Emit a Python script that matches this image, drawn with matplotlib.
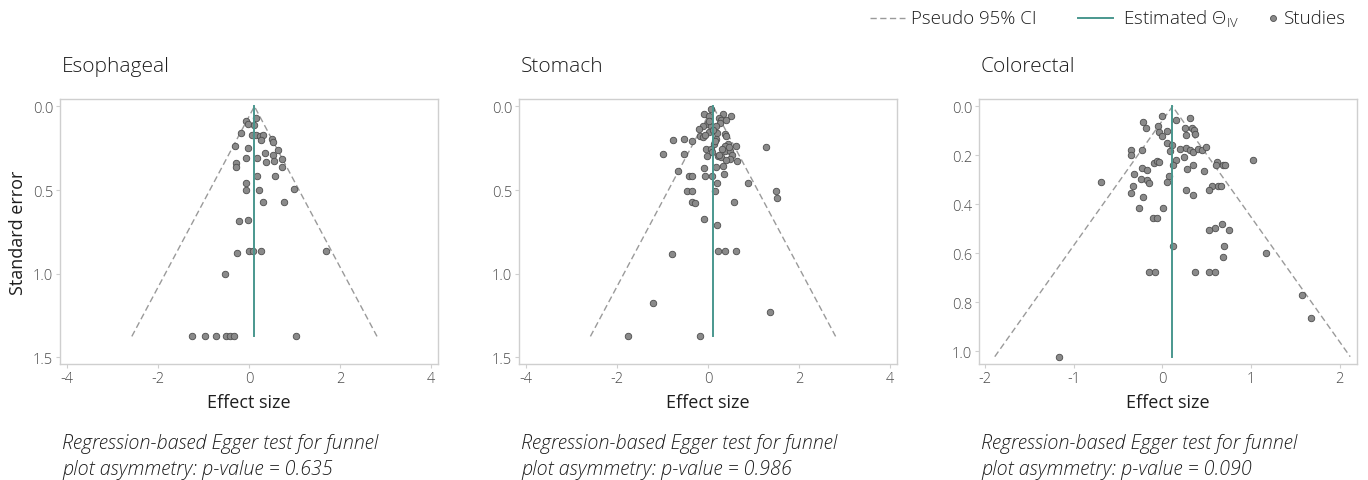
import matplotlib
matplotlib.use("Agg")
import matplotlib.pyplot as plt
from matplotlib.lines import Line2D
import numpy as np

plt.rcParams['font.family'] = ['Open Sans', 'DejaVu Sans']
plt.rcParams['font.weight'] = 'light'
plt.rcParams['axes.unicode_minus'] = False
plt.rcParams['mathtext.fontset'] = 'custom'
plt.rcParams['mathtext.rm'] = 'Open Sans:light'

# ---------------- data ----------------
titles = ["Esophageal", "Stomach", "Colorectal"]
p_values = ["0.635", "0.986", "0.090"]
theta = [0.114, 0.105, 0.113]
se_max = [1.375, 1.375, 1.023]

eso_x = [-0.08, 0.15, -0.03, 0.11, -0.18, 0.05, 0.15, 0.23, 0.30, 0.26, 0.49, 0.52,
         -0.31, -0.03, 0.63, 0.34, 0.53, -0.07, 0.18, 0.73, 0.37, 0.55, -0.30, -0.30,
         0.71, 0.16, 0.57, -0.07, -0.08, 0.21, 0.99, 0.30, 0.77, -0.22, -0.03, -0.26,
         0.00, 0.08, 0.25, 1.68, -0.53, -1.26, -0.98, -0.73, -0.50, -0.43, -0.34, 1.02]
eso_se = [0.086, 0.070, 0.106, 0.110, 0.161, 0.169, 0.169, 0.180, 0.173, 0.203, 0.195, 0.213,
          0.239, 0.247, 0.259, 0.279, 0.293, 0.311, 0.311, 0.313, 0.331, 0.327, 0.341, 0.365,
          0.365, 0.418, 0.418, 0.456, 0.502, 0.502, 0.492, 0.572, 0.572, 0.683, 0.677, 0.875,
          0.867, 0.867, 0.867, 0.867, 1.002, 1.375, 1.375, 1.375, 1.375, 1.375, 1.375, 1.375]

sto_x = [0.07, -0.09, 0.01, 0.32, 0.51, 0.23, 0.29, 0.40, 0.25, -0.03, -0.12, 0.05,
         -0.21, 0.17, 0.01, 0.20, 0.36, -0.19, -0.11, 0.40, 0.17, -0.06, -0.78, -0.53,
         -0.35, 0.13, 0.44, 0.37, 0.60, 1.26, -0.04, 0.06, 0.08, 0.37, 0.48, 0.30,
         -0.99, -0.54, 0.53, -0.02, 0.22, 0.27, 0.47, 0.40, 0.64, 0.33, 0.18, -0.10,
         -0.67, 0.34, -0.43, -0.36, -0.06, 0.09, 0.19, 0.88, -0.47, -0.35, 0.15, 1.48,
         1.51, -0.36, -0.28, 0.57, -0.10, 0.19, -0.80, 0.22, 0.37, 0.62, -1.21, 1.36,
         -1.77, -0.18, 0.10, 0.24, 0.45, 0.14, 0.02]
sto_se = [0.016, 0.044, 0.060, 0.048, 0.056, 0.072, 0.084, 0.080, 0.100, 0.104, 0.116, 0.120,
          0.136, 0.116, 0.155, 0.161, 0.166, 0.177, 0.181, 0.177, 0.195, 0.172, 0.201, 0.194,
          0.206, 0.225, 0.225, 0.235, 0.239, 0.245, 0.255, 0.255, 0.273, 0.267, 0.267, 0.255,
          0.287, 0.287, 0.289, 0.299, 0.299, 0.301, 0.315, 0.321, 0.325, 0.355, 0.365, 0.371,
          0.388, 0.402, 0.418, 0.418, 0.418, 0.418, 0.458, 0.456, 0.504, 0.504, 0.506, 0.504,
          0.548, 0.574, 0.576, 0.572, 0.671, 0.709, 0.884, 0.867, 0.867, 0.867, 1.173, 1.227,
          1.375, 1.375, 0.140, 0.290, 0.240, 0.210, 0.090]

col_x = [0.00, 0.31, 0.15, -0.22, -0.19, -0.05, 0.25, 0.33, 0.36, 0.05, -0.04, 0.37,
         0.00, 0.26, 0.05, 0.11, -0.35, -0.23, 0.08, 0.20, 0.26, 0.31, 0.35, 0.40,
         0.45, 0.49, -0.36, 0.24, 0.15, 1.02, -0.10, -0.06, -0.04, 0.12, 0.34, 0.62,
         0.60, 0.68, 0.70, -0.23, 0.28, -0.18, 0.47, -0.32, 0.07, -0.69, -0.24, -0.17,
         -0.15, 0.05, -0.33, 0.56, 0.63, 0.66, 0.53, 0.27, -0.35, 0.34, -0.22, -0.26,
         0.01, -0.11, -0.06, 0.67, 0.59, 0.53, 0.75, 0.12, 0.69, 0.68, 1.17, -0.15,
         -0.08, 0.37, 0.53, 0.59, 1.57, 1.68, -1.17]
col_se = [0.040, 0.048, 0.057, 0.065, 0.089, 0.082, 0.087, 0.089, 0.098, 0.099, 0.105, 0.112,
          0.120, 0.117, 0.151, 0.157, 0.178, 0.178, 0.181, 0.176, 0.169, 0.178, 0.185, 0.174,
          0.178, 0.166, 0.199, 0.207, 0.221, 0.221, 0.230, 0.225, 0.226, 0.238, 0.238, 0.226,
          0.240, 0.240, 0.240, 0.252, 0.255, 0.259, 0.263, 0.278, 0.286, 0.308, 0.298, 0.300,
          0.315, 0.311, 0.327, 0.327, 0.327, 0.327, 0.341, 0.343, 0.354, 0.362, 0.369, 0.416,
          0.416, 0.455, 0.455, 0.481, 0.497, 0.505, 0.505, 0.572, 0.572, 0.617, 0.599, 0.677,
          0.677, 0.677, 0.677, 0.677, 0.771, 0.865, 1.024]

effects = [eso_x, sto_x, col_x]
ses = [eso_se, sto_se, col_se]

xlims = [(-4.16, 4.15), (-4.16, 4.15), (-2.07, 2.195)]
ylims = [(1.54, -0.044), (1.54, -0.044), (1.053, -0.030)]
xticks = [[-4, -2, 0, 2, 4], [-4, -2, 0, 2, 4], [-2, -1, 0, 1, 2]]
yticks = [[0.0, 0.5, 1.0, 1.5], [0.0, 0.5, 1.0, 1.5], [0.0, 0.2, 0.4, 0.6, 0.8, 1.0]]

# ---------------- style ----------------
W, H = 1368, 481
pt_color = "#8a8a8a"
edge_color = "#4d4d4d"
teal = "#4a978e"
ci_color = "#9a9a9a"
spine_color = "#cfcfcf"
text_color = "#1e1e1e"
tick_color = "#4a4a4a"

fig = plt.figure(figsize=(W / 100, H / 100), dpi=100)
fig.patch.set_facecolor("white")

lefts = [60, 519, 979]
ax_w, ax_top, ax_bot = 378, 100, 365

for i in range(3):
    ax = fig.add_axes([lefts[i] / W, (H - ax_bot) / H, ax_w / W, (ax_bot - ax_top) / H])
    t, s = theta[i], se_max[i]
    ax.plot([t - 1.96 * s, t, t + 1.96 * s], [s, 0, s], ls=(0, (4.5, 2.5)),
            color=ci_color, lw=1.0, zorder=1)
    ax.scatter(effects[i], ses[i], s=22, facecolor=pt_color, edgecolor=edge_color,
               linewidth=0.6, zorder=2)
    ax.plot([t, t], [0, s], color=teal, lw=1.4, zorder=3)
    ax.set_xlim(*xlims[i])
    ax.set_ylim(*ylims[i])
    ax.set_xticks(xticks[i])
    ax.set_xticklabels([f"{v:d}" for v in xticks[i]])
    ax.set_yticks(yticks[i])
    ax.set_yticklabels([f"{v:.1f}" for v in yticks[i]])
    for sp in ax.spines.values():
        sp.set_color(spine_color)
        sp.set_linewidth(1.0)
    ax.tick_params(axis="both", length=3, width=0.8, color=spine_color,
                   labelsize=10.5, labelcolor=tick_color, pad=2)
    ax.set_xlabel("Effect size", fontsize=13, color=text_color, labelpad=5)
    if i == 0:
        ax.set_ylabel("Standard error", fontsize=13, color=text_color, labelpad=4)
    fig.text((lefts[i] + 2) / W, 1 - 72 / H, titles[i], fontsize=15,
             color=text_color, ha="left", va="baseline")
    fig.text((lefts[i] + 2) / W, 1 - 449 / H,
             "Regression-based Egger test for funnel", fontsize=14.2,
             style="italic", color=text_color, ha="left", va="baseline")
    fig.text((lefts[i] + 2) / W, 1 - 475 / H,
             "plot asymmetry: p-value = " + p_values[i], fontsize=14.2,
             style="italic", color=text_color, ha="left", va="baseline")

# ---------------- legend ----------------
ly = 1 - 19 / H
fig.add_artist(Line2D([870 / W, 905 / W], [ly, ly], transform=fig.transFigure,
                      color=ci_color, lw=1.0, ls=(0, (4.5, 2.5))))
fig.text(911 / W, ly, "Pseudo 95% CI", fontsize=13.5, color=text_color,
         ha="left", va="center")
fig.add_artist(Line2D([1078 / W, 1113 / W], [ly, ly], transform=fig.transFigure,
                      color=teal, lw=1.4))
fig.text(1123 / W, ly, "Estimated Θ$_{\\mathregular{IV}}$", fontsize=13.5,
         color=text_color, ha="left", va="center")
fig.add_artist(Line2D([1273 / W], [ly], transform=fig.transFigure, marker="o",
                      ms=4.3, mfc=pt_color, mec=edge_color, mew=0.6, ls="none"))
fig.text(1284 / W, ly, "Studies", fontsize=13.5, color=text_color,
         ha="left", va="center")

fig.savefig("out.png", dpi=100, facecolor="white")
